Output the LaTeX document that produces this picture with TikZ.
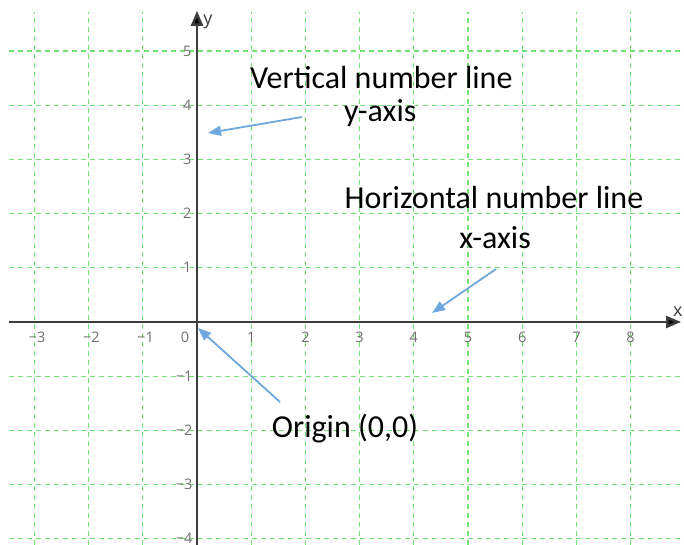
\documentclass[tikz,border=0pt]{standalone}
\usepackage{fontspec}
\setmainfont{Carlito}
\newfontfamily\tickfont{Open Sans}
\usetikzlibrary{arrows.meta}
\definecolor{gridgreen}{RGB}{115,228,115}
\definecolor{arrowblue}{RGB}{111,168,220}
\definecolor{axisgray}{RGB}{60,60,60}
\definecolor{tickgray}{RGB}{110,110,110}
\newcommand{\mysign}{\symbol{"2212}}
\begin{document}
\begin{tikzpicture}[x=54.2pt,y=54.2pt,
  gridline/.style={draw=gridgreen,line width=1.3pt,dash pattern=on 5pt off 4pt},
  axisline/.style={draw=axisgray,line width=2.5pt,-{Triangle[length=15pt,width=12pt,fill=black]}},
  tick/.style={font=\tickfont\fontsize{14.5}{16}\selectfont,text=tickgray,inner sep=0pt},
  annot/.style={font=\fontsize{32}{36}\selectfont,anchor=base,inner sep=0pt},
  pointer/.style={draw=arrowblue,line width=1.8pt,-{Triangle[length=13pt,width=10pt]}},
  axlabel/.style={font=\tickfont\fontsize{18}{20}\selectfont,inner sep=0pt,text=axisgray}]
\useasboundingbox (-3.635,-4.114) rectangle (8.985,5.941);
\fill[white] (-3.635,-4.114) rectangle (8.985,5.941);
% grid
\foreach \i in {-3,...,9} \draw[gridline] (\i,-4.114) -- (\i,5.72);
\foreach \j in {-4,...,5} \draw[gridline] (-3.47,\j) -- (8.985,\j);
% axes
\coordinate (xs) at (-3.47,0);
\coordinate (xe) at (8.93,0);
\coordinate (ys) at (0,-4.114);
\coordinate (ye) at (0,5.74);
\draw[axisline] (xs) -- (xe);
\draw[axisline] (ys) -- (ye);
\node[axlabel] (xl) at (8.87,0.19) {x};
\node[axlabel] (yl) at (0.2,5.53) {y};
% tick labels
\foreach \i in {1,...,8} \node[tick] (tx\i) at (\i,-0.28) {\i};
\foreach \k in {1,2,3} \node[tick] (txm\k) at (-\k+0.05,-0.28) {\mysign\k};
\node[tick] (t0) at (-0.22,-0.28) {0};
\foreach \j in {1,...,5} \node[tick,anchor=east] (ty\j) at (-0.1,\j) {\j};
\foreach \k in {1,...,4} \node[tick,anchor=east] (tym\k) at (-0.08,-\k) {\mysign\k};
% annotations
\node[annot] (v1) at (3.40,4.317) {Vertical number line};
\node[annot] (v2) at (3.38,3.690) {y-axis};
\node[annot] (h1) at (5.48,2.085) {Horizontal number line};
\node[annot] (h2) at (5.50,1.365) {x-axis};
\node[annot] (o1) at (2.73,-2.140) {Origin (0,0)};
% pointers
\coordinate (a1s) at (1.937,3.782);
\coordinate (a1e) at (0.203,3.487);
\coordinate (a2s) at (5.517,0.978);
\coordinate (a2e) at (4.336,0.166);
\coordinate (a3s) at (1.531,-1.476);
\coordinate (a3e) at (0.018,-0.111);
\draw[pointer] (a1s) -- (a1e);
\draw[pointer] (a2s) -- (a2e);
\draw[pointer] (a3s) -- (a3e);
\end{tikzpicture}
\end{document}
